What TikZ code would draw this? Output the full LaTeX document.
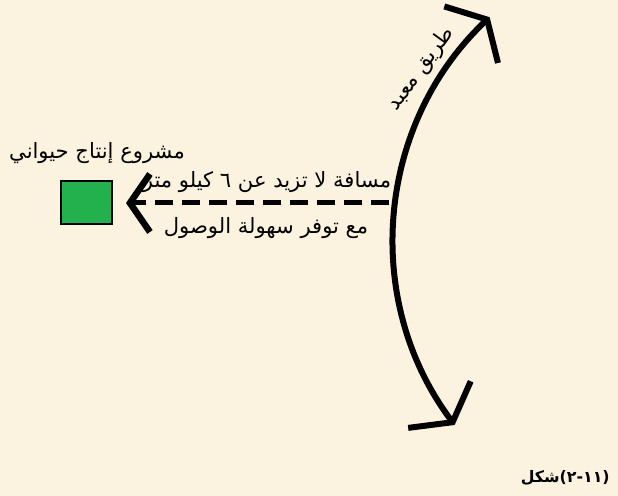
\documentclass[tikz,border=0pt]{standalone}
\usepackage{fontspec}
\usetikzlibrary{arrows.meta}
\TeXXeTstate=1
\newfontfamily\arabicfont[Script=Arabic]{DejaVu Sans}
\newfontfamily\digitfont{DejaVu Sans}
\definecolor{parchment}{RGB}{251,243,224}
\definecolor{boxgreen}{RGB}{34,177,76}
\tikzset{
  arlabel/.style={font=\arabicfont\fontsize{12}{14}\selectfont, inner sep=0pt},
  road/.style={line width=0.12cm,
    {Straight Barb[length=0.44cm,width=1.56cm]}-{Straight Barb[length=0.44cm,width=1.56cm]}},
  distline/.style={line width=0.1cm, dash pattern=on 0.36cm off 0.18cm,
    -{Straight Barb[length=0.4cm,width=1.16cm,line width=0.13cm]}}
}
\begin{document}
\begin{tikzpicture}[x=0.02cm,y=0.02cm]
    \useasboundingbox (0,0) rectangle (618,496);
    \fill[parchment] (0,0) rectangle (618,496);

    % project
    \node[draw, fill=boxgreen, line width=0.6pt, minimum width=1.02cm, minimum height=0.86cm] (project) at (86.5,293.5) {};
    \node[arlabel] (projectlabel) at (97,343) {\beginR مشروع إنتاج حيواني\endR};

    % road
    \coordinate (roadtop) at (489.6,478.8);
    \draw[road] (roadtop) arc[start angle=133.5, end angle=216.7, radius=6.166cm];
    \node[arlabel, rotate=54] (roadlabel) at (421,427) {\beginR طريق معبد\endR};

    % distance
    \coordinate (dashend) at (389,293);
    \coordinate (dashtip) at (126,293);
    \draw[distline] (dashend) -- (dashtip);
    \node[arlabel] (distabove) at (267,314) {\beginR مسافة لا تزيد عن ٦ كيلو متر\endR};
    \node[arlabel] (distbelow) at (266,268) {\beginR مع توفر سهولة الوصول\endR};

    % caption
    \node[font=\bfseries\fontsize{9}{11}\selectfont, inner sep=0pt, anchor=east] (caption) at (610,18)
      {{\arabicfont شكل}\digitfont(\kern0pt٢\kern0pt-\kern0pt١١\kern0pt)};
\end{tikzpicture}
\end{document}
